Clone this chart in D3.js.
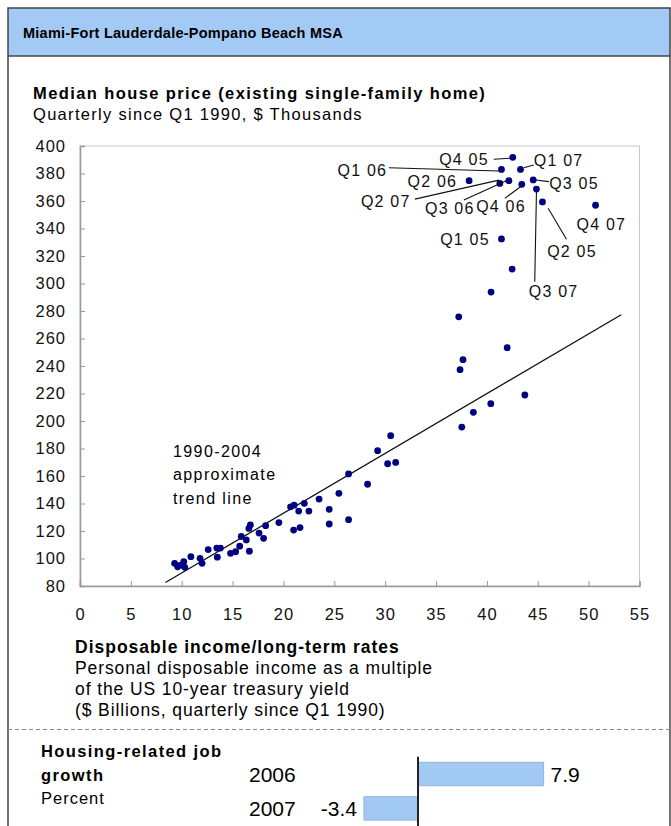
<!DOCTYPE html>
<html>
<head>
<meta charset="utf-8">
<script src="https://cdn.jsdelivr.net/npm/d3@7"></script>
<style>
  body { margin: 0; background: #fff; }
  svg { display: block; font-family: "Liberation Sans", Arial, sans-serif; }
</style>
</head>
<body>
<svg id="chart"></svg>
<script>
// scatter: disposable income / long-term rates vs median house price
const incomeRatio = [
  9.3, 9.6, 9.9, 10.2, 10.3, 10.9, 11.8, 12.0, 12.6, 13.45, 13.8, 13.5,
  14.8, 15.3, 15.7, 15.85, 16.35, 16.6, 16.75, 16.65, 17.6, 18.05, 18.25,
  19.55, 20.7, 21.05, 21.5, 21.0, 21.63, 22.05, 22.5, 23.5, 24.5, 24.5, 25.45,
  26.4, 26.4, 28.27, 29.26, 30.54, 30.24, 31.03,
  37.53, 38.67, 40.38, 43.73, 37.36, 37.65, 41.99, 37.23, 40.41, 42.48
];
const housePrice = [
  96.5, 94.0, 95.2, 97.7, 93.6, 101.3, 100.1, 96.5, 106.5, 107.6, 107.6, 101.0,
  103.8, 104.9, 109.0, 116.0, 113.5, 121.9, 124.4, 105.3, 118.5, 114.7, 123.9,
  126.1, 137.5, 138.8, 134.5, 120.7, 122.5, 140.1, 134.5, 143.2, 135.8, 125.1, 147.4,
  161.5, 128.2, 154.0, 178.4, 189.3, 168.9, 169.9,
  195.6, 206.3, 212.6, 218.9, 237.3, 244.6, 253.3, 275.8, 293.8, 310.5
];

// labelled quarters 2005-2007
const quarterLabels = ['Q1 05', 'Q2 05', 'Q3 05', 'Q4 05', 'Q1 06', 'Q2 06',
  'Q3 06', 'Q4 06', 'Q1 07', 'Q2 07', 'Q3 07', 'Q4 07'];
const quarterIncome = [41.43, 45.46, 44.55, 42.54, 41.43, 38.25, 42.16, 43.43, 43.3, 41.27, 44.87, 50.68];
const quarterPrice = [332.4, 359.3, 375.3, 391.8, 383.0, 374.8, 374.8, 372.1, 383.0, 372.8, 368.7, 356.9];

// 1990-2004 approximate trend line end points
const trendIncome = [8.4, 53.2];
const trendPrice = [82.5, 277.3];

const xTicks = [0, 5, 10, 15, 20, 25, 30, 35, 40, 45, 50, 55];
const yTicks = [80, 100, 120, 140, 160, 180, 200, 220, 240, 260, 280, 300, 320, 340, 360, 380, 400];

// housing-related job growth, percent
const jobYears = ['2006', '2007'];
const jobGrowth = [7.9, -3.4];

let width = 671;
let height = 826;
let svg = d3.select('#chart').attr('width', width).attr('height', height);

let font = '"Liberation Sans", Arial, sans-serif';
let dotColor = '#000080';
let barColor = '#a2c9f4';

// frame + header band
svg.append('rect')
  .attr('x', 8).attr('y', 8)
  .attr('width', 662).attr('height', 48)
  .attr('fill', '#a3caf5');
svg.append('rect')
  .attr('x', 8).attr('y', 8)
  .attr('width', 662).attr('height', 860)
  .attr('fill', 'none')
  .attr('stroke', '#444')
  .attr('stroke-width', 1.5);
svg.append('line')
  .attr('x1', 8).attr('x2', 670)
  .attr('y1', 56).attr('y2', 56)
  .attr('stroke', '#444')
  .attr('stroke-width', 1.5);

svg.append('text')
  .attr('x', 23).attr('y', 38)
  .attr('font-size', 14.5).attr('font-weight', 'bold')
  .attr('letter-spacing', 0.25)
  .text('Miami-Fort Lauderdale-Pompano Beach MSA');

svg.append('text')
  .attr('x', 33).attr('y', 99)
  .attr('font-size', 16.5).attr('font-weight', 'bold')
  .attr('letter-spacing', 1.4)
  .text('Median house price (existing single-family home)');
svg.append('text')
  .attr('x', 33).attr('y', 120)
  .attr('font-size', 16.5)
  .attr('letter-spacing', 1.3)
  .text('Quarterly since Q1 1990, $ Thousands');

// scales
let xScale = d3.scaleLinear().domain([0, 55]).range([80, 639.5]);
let yScale = d3.scaleLinear().domain([80, 400]).range([586, 146]);

// light plot border
svg.append('rect')
  .attr('x', xScale(0)).attr('y', yScale(400))
  .attr('width', xScale(55) - xScale(0))
  .attr('height', yScale(80) - yScale(400))
  .attr('fill', 'none')
  .attr('stroke', '#c8c8c8');

let xAxis = d3.axisBottom(xScale).tickValues(xTicks).tickSize(-5).tickPadding(22);
let yAxis = d3.axisLeft(yScale).tickValues(yTicks).tickSize(-5).tickPadding(14);

let gx = svg.append('g')
  .attr('transform', `translate(0, ${yScale(80)})`)
  .call(xAxis);
let gy = svg.append('g')
  .attr('transform', `translate(${xScale(0)}, 0)`)
  .call(yAxis);

[gx, gy].forEach((g) => {
  g.select('.domain').attr('stroke', '#999').attr('stroke-width', 1.5);
  g.selectAll('.tick line').attr('stroke', '#999');
  g.selectAll('.tick text')
    .attr('fill', '#111')
    .attr('font-size', 16.5)
    .attr('letter-spacing', 1)
    .attr('font-family', font);
});

// trend line
svg.append('line')
  .attr('x1', xScale(trendIncome[0])).attr('y1', yScale(trendPrice[0]))
  .attr('x2', xScale(trendIncome[1])).attr('y2', yScale(trendPrice[1]))
  .attr('stroke', '#111')
  .attr('stroke-width', 1.3);

svg.append('text')
  .attr('font-size', 16)
  .attr('letter-spacing', 1.4)
  .selectAll('tspan')
  .data(['1990-2004', 'approximate', 'trend line'])
  .enter()
  .append('tspan')
  .attr('x', 173)
  .attr('y', (d, i) => 457 + i * 23.3)
  .text((d) => d);

// dots
svg.append('g')
  .selectAll('circle')
  .data(incomeRatio.map((v, i) => [v, housePrice[i]]))
  .enter()
  .append('circle')
  .attr('cx', (d) => xScale(d[0]))
  .attr('cy', (d) => yScale(d[1]))
  .attr('r', 3.4)
  .attr('fill', dotColor);

let quarters = quarterLabels.map((q, i) => ({ label: q, x: quarterIncome[i], y: quarterPrice[i] }));

svg.append('g')
  .selectAll('circle')
  .data(quarters)
  .enter()
  .append('circle')
  .attr('cx', (d) => xScale(d.x))
  .attr('cy', (d) => yScale(d.y))
  .attr('r', 3.4)
  .attr('fill', dotColor);

// label placement relative to each dot, pixels: text anchor point + leader line
let labelPlace = {
  'Q1 05': { tx: -11.7, ty: 0, anchor: 'end' },
  'Q2 05': { tx: 4.7, ty: 49, anchor: 'start', line: [24, 37.3, 5.7, 6.3] },
  'Q3 05': { tx: 16, ty: 3.3, anchor: 'start', line: [15.6, 1.7, 2.3, 0] },
  'Q4 05': { tx: -24, ty: 2, anchor: 'end', line: [-19, 2, -3, 1] },
  'Q1 06': { tx: -114.3, ty: 0.7, anchor: 'end', line: [-112.7, -1.6, -2.7, 1.7] },
  'Q2 06': { tx: -12, ty: 1, anchor: 'end' },
  'Q3 06': { tx: -34.3, ty: 27.6, anchor: 'end', line: [-45, 19.3, -1, -0.7] },
  'Q4 06': { tx: -45.6, ty: 22.4, anchor: 'start', line: [-17, 14, -1.3, 2.4] },
  'Q1 07': { tx: 13.3, ty: -8.6, anchor: 'start', line: [13.3, -4.3, 3.3, -1.6] },
  'Q2 07': { tx: -89.3, ty: 18.4, anchor: 'end', line: [-85, 15.7, -1, -3.3] },
  'Q3 07': { tx: -7.7, ty: 102.7, anchor: 'start', line: [-1.7, 92.7, 0, 3] },
  'Q4 07': { tx: -19, ty: 18.7, anchor: 'start' },
};

let labelG = svg.append('g');
quarters.forEach((d) => {
  let p = labelPlace[d.label];
  let cx = xScale(d.x);
  let cy = yScale(d.y);
  if (p.line) {
    labelG.append('line')
      .attr('x1', cx + p.line[0]).attr('y1', cy + p.line[1])
      .attr('x2', cx + p.line[2]).attr('y2', cy + p.line[3])
      .attr('stroke', '#111')
      .attr('stroke-width', 1.1);
  }
  labelG.append('text')
    .attr('x', cx + p.tx)
    .attr('y', cy + p.ty + 5.6)
    .attr('text-anchor', p.anchor)
    .attr('font-size', 16)
    .attr('letter-spacing', 1.2)
    .attr('fill', '#111')
    .text(d.label);
});

// x axis title block
let xTitle = ['Personal disposable income as a multiple', 'of the US 10-year treasury yield', '($ Billions, quarterly since Q1 1990)'];
svg.append('text')
  .attr('x', 75).attr('y', 653)
  .attr('font-size', 17.5).attr('font-weight', 'bold')
  .attr('letter-spacing', 1)
  .text('Disposable income/long-term rates');
svg.append('g')
  .selectAll('text')
  .data(xTitle)
  .enter()
  .append('text')
  .attr('x', 75)
  .attr('y', (d, i) => 673.5 + i * 21.3)
  .attr('font-size', 17.5)
  .attr('letter-spacing', 0.9)
  .text((d) => d);

// dashed divider
svg.append('line')
  .attr('x1', 8).attr('x2', 670)
  .attr('y1', 729.5).attr('y2', 729.5)
  .attr('stroke', '#888')
  .attr('stroke-dasharray', '4,3');

// job growth panel
svg.append('text')
  .attr('x', 41).attr('y', 757)
  .attr('font-size', 16.5).attr('font-weight', 'bold')
  .attr('letter-spacing', 1.4)
  .text('Housing-related job');
svg.append('text')
  .attr('x', 41).attr('y', 781)
  .attr('font-size', 16.5).attr('font-weight', 'bold')
  .attr('letter-spacing', 1.4)
  .text('growth');
svg.append('text')
  .attr('x', 41).attr('y', 804)
  .attr('font-size', 16.5)
  .attr('letter-spacing', 1)
  .text('Percent');

let barX = d3.scaleLinear().domain([-5, 10]).range([418 - 79.5, 418 + 159]);
let barY = d3.scaleBand().domain(jobYears).range([756.8, 825.6]).paddingInner(0.32).paddingOuter(0.16);

svg.append('g')
  .selectAll('rect')
  .data(jobGrowth)
  .enter()
  .append('rect')
  .attr('x', (d) => barX(Math.min(0, d)))
  .attr('y', (d, i) => barY(jobYears[i]))
  .attr('width', (d) => Math.abs(barX(d) - barX(0)))
  .attr('height', barY.bandwidth())
  .attr('fill', barColor)
  .attr('stroke', '#8fb3dc')
  .attr('stroke-width', 1);

svg.append('line')
  .attr('x1', barX(0)).attr('x2', barX(0))
  .attr('y1', 756.7).attr('y2', 826)
  .attr('stroke', '#222')
  .attr('stroke-width', 2);

svg.append('g')
  .selectAll('text')
  .data(jobYears)
  .enter()
  .append('text')
  .attr('x', 249)
  .attr('y', (d) => barY(d) + barY.bandwidth() / 2 + 7.5)
  .attr('font-size', 21)
  .text((d) => d);

svg.append('g')
  .selectAll('text')
  .data(jobGrowth)
  .enter()
  .append('text')
  .attr('x', (d) => (d >= 0 ? barX(d) + 7 : barX(d) - 7))
  .attr('y', (d, i) => barY(jobYears[i]) + barY.bandwidth() / 2 + 7.5)
  .attr('text-anchor', (d) => (d >= 0 ? 'start' : 'end'))
  .attr('font-size', 21)
  .text((d) => d.toFixed(1));
</script>
</body>
</html>
